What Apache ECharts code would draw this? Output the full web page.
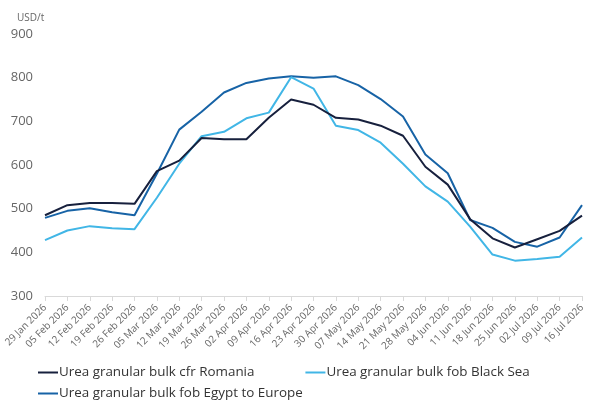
<!DOCTYPE html>
<html>
<head>
<meta charset="utf-8">
<script src="https://cdn.jsdelivr.net/npm/echarts@6/dist/echarts.min.js"></script>
<style>html,body{margin:0;padding:0;background:#fff}#c{width:602px;height:415px}</style>
</head>
<body>
<div id="c"></div>
<script>
var categories = ['29 Jan 2026','05 Feb 2026','12 Feb 2026','19 Feb 2026','26 Feb 2026','05 Mar 2026','12 Mar 2026','19 Mar 2026','26 Mar 2026','02 Apr 2026','09 Apr 2026','16 Apr 2026','23 Apr 2026','30 Apr 2026','07 May 2026','14 May 2026','21 May 2026','28 May 2026','04 Jun 2026','11 Jun 2026','18 Jun 2026','25 Jun 2026','02 Jul 2026','09 Jul 2026','16 Jul 2026'];
var romania = [485,508,513,513,511,586,610,662,659,659,708,750,738,708,704,690,667,596,555,476,432,411,430,449,484];
var blackSea = [428,450,460,455,453,525,603,666,676,707,720,801,775,690,680,651,603,551,516,459,395,381,385,390,434];
var egypt = [479,495,501,492,485,580,681,722,766,788,798,803,800,803,783,751,711,624,581,474,456,424,413,434,508];
var yTicks = [300,400,500,600,700,800,900];
var names = ['Urea granular bulk cfr Romania','Urea granular bulk fob Black Sea','Urea granular bulk fob Egypt to Europe'];
var colors = ['#17203d','#41b6e6','#1763a6'];

var chart = echarts.init(document.getElementById('c'), null, {renderer:'canvas'});
var font = 'Open Sans';
chart.setOption({
  animation:false,
  color: colors,
  grid:{left:45, right:20, top:34, bottom:119, containLabel:false},
  title:{text:'USD/t', left:12, top:8, textStyle:{fontFamily:font, fontSize:10, fontWeight:'normal', color:'#666'}},
  legend:[{
    data:[names[0], names[1]], left:33, top:361, itemWidth:20, itemHeight:2, icon:'rect', itemGap:51,
    textStyle:{fontFamily:font, fontSize:13.4, color:'#333', padding:[0,0,0,-4]}
  },{
    data:[names[2]], left:33, top:382, itemWidth:20, itemHeight:2, icon:'rect',
    textStyle:{fontFamily:font, fontSize:13.4, color:'#333', padding:[0,0,0,-4]}
  }],
  xAxis:{
    type:'category', data:categories, boundaryGap:false,
    axisLine:{lineStyle:{color:'#d9d9d9'}},
    axisTick:{show:true, alignWithLabel:true, lineStyle:{color:'#d9d9d9'}, length:5},
    axisLabel:{rotate:45, interval:0, fontFamily:font, fontSize:10, color:'#666', margin:10}
  },
  yAxis:{
    type:'value', min:yTicks[0], max:yTicks[yTicks.length-1], interval:100,
    splitLine:{show:false}, axisLine:{show:false}, axisTick:{show:false},
    axisLabel:{fontFamily:font, fontSize:13, color:'#666', margin:12}
  },
  series:[
    {name:names[0], type:'line', data:romania, symbol:'none', lineStyle:{width:2, color:colors[0]}, z:3},
    {name:names[1], type:'line', data:blackSea, symbol:'none', lineStyle:{width:2, color:colors[1]}, z:2},
    {name:names[2], type:'line', data:egypt, symbol:'none', lineStyle:{width:2, color:colors[2]}, z:1}
  ]
});
</script>
</body>
</html>
